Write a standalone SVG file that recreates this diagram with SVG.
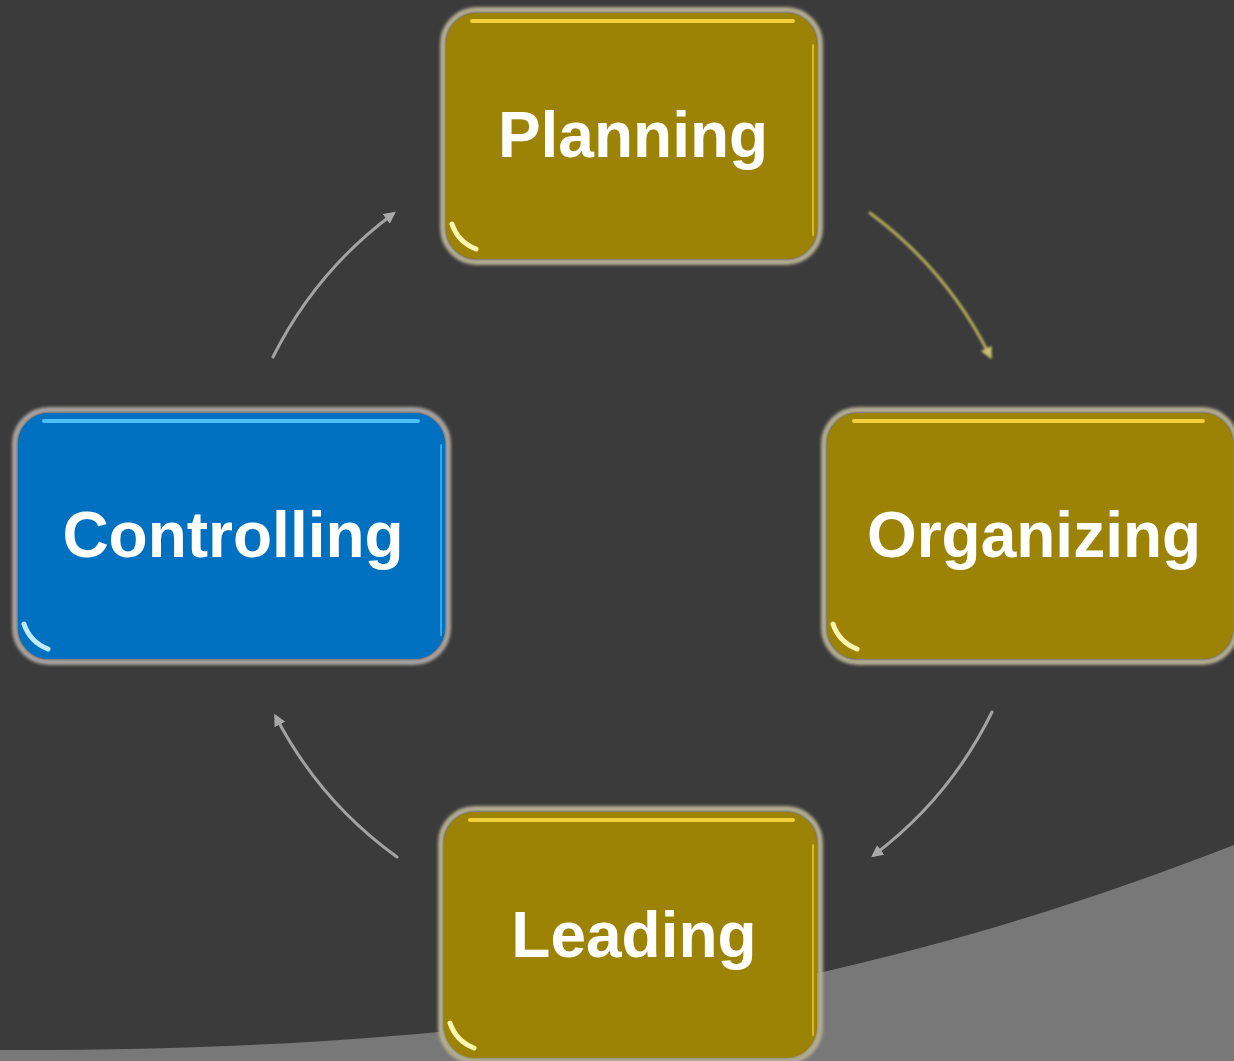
<svg xmlns="http://www.w3.org/2000/svg" width="1234" height="1061" viewBox="0 0 1234 1061">
  <defs>
    <style>
      .label { font-family: "Liberation Sans", Arial, sans-serif; font-weight: bold; font-size: 64px; fill: #ffffff; text-anchor: middle; }
      .rim { fill: none; stroke-width: 6; filter: url(#soft); }
      .gold .body { fill: #9c8306; }
      .gold .rim { stroke: #b3ad92; }
      .gold .shine { stroke: #efd03c; }
      .blue .body { fill: #0070c0; }
      .blue .rim { stroke: #a7a3a0; }
      .blue .shine { stroke: #4cc0f6; }
      .shine { fill: none; stroke-width: 4; stroke-linecap: round; }
      .edge { stroke-width: 2; opacity: 0.7; }
      .corner { fill: none; stroke: #fff6b0; stroke-width: 5; stroke-linecap: round; }
      .blue .corner { stroke: #bfeaff; }
      .link { fill: none; stroke-width: 3; stroke-linecap: round; }
    </style>
    <filter id="soft" x="-10%" y="-10%" width="120%" height="120%">
      <feGaussianBlur stdDeviation="1.6"/>
    </filter>
    <filter id="glow" x="-30%" y="-30%" width="160%" height="160%">
      <feGaussianBlur stdDeviation="0.9"/>
    </filter>
    <marker id="tip-gray" viewBox="0 0 10 10" refX="7" refY="5" markerWidth="4" markerHeight="4" orient="auto">
      <path d="M0,0 L10,5 L0,10 z" fill="#a8a8a8"/>
    </marker>
    <marker id="tip-gold" viewBox="0 0 10 10" refX="7" refY="5" markerWidth="4" markerHeight="4" orient="auto">
      <path d="M0,0 L10,5 L0,10 z" fill="#c8c070"/>
    </marker>
  </defs>

  <!-- backdrop -->
  <rect width="1234" height="1061" fill="#3b3b3b"/>
  <path d="M0,1050 C550,1052 900,975 1234,845 L1234,1061 L0,1061 Z" fill="#787878"/>

  <!-- connectors: arcs of one circle around the diagram centre -->
  <g id="connectors">
    <path class="link" d="M870,213 A400,400 0 0 1 990,356" stroke="#b5ac5c" marker-end="url(#tip-gold)" filter="url(#glow)"/>
    <path class="link" d="M992,712 A400,400 0 0 1 874,855" stroke="#a3a3a3" marker-end="url(#tip-gray)"/>
    <path class="link" d="M397,857 A400,400 0 0 1 276,717" stroke="#a3a3a3" marker-end="url(#tip-gray)"/>
    <path class="link" d="M273,357 A400,400 0 0 1 393,214" stroke="#a3a3a3" marker-end="url(#tip-gray)"/>
  </g>

  <!-- Planning -->
  <g id="planning" class="gold">
    <rect class="rim" x="443" y="10" width="377" height="252" rx="34"/>
    <rect class="body" x="446" y="13" width="371" height="246" rx="31"/>
    <path class="shine" d="M472,21 L793,21"/>
    <path class="shine edge" d="M813,45 L813,235"/>
    <path class="corner" d="M452,224 Q458,242 476,249"/>
    <text class="label" x="633" y="157">Planning</text>
  </g>

  <!-- Organizing -->
  <g id="organizing" class="gold">
    <rect class="rim" x="824" y="410" width="412" height="252" rx="34"/>
    <rect class="body" x="827" y="413" width="406" height="246" rx="31"/>
    <path class="shine" d="M854,421 L1203,421"/>
    <path class="corner" d="M833,624 Q839,642 857,649"/>
    <text class="label" x="1034" y="557">Organizing</text>
  </g>

  <!-- Controlling -->
  <g id="controlling" class="blue">
    <rect class="rim" x="15" y="410" width="433" height="252" rx="34"/>
    <rect class="body" x="18" y="413" width="427" height="246" rx="31"/>
    <path class="shine" d="M44,421 L418,421"/>
    <path class="shine edge" d="M441,445 L441,635"/>
    <path class="corner" d="M24,624 Q30,642 48,649"/>
    <text class="label" x="233" y="557">Controlling</text>
  </g>

  <!-- Leading -->
  <g id="leading" class="gold">
    <rect class="rim" x="441" y="809" width="379" height="252" rx="34"/>
    <rect class="body" x="444" y="812" width="373" height="246" rx="31"/>
    <path class="shine" d="M470,820 L793,820"/>
    <path class="shine edge" d="M813,845 L813,1035"/>
    <path class="corner" d="M450,1023 Q456,1041 474,1048"/>
    <text class="label" x="634" y="957">Leading</text>
  </g>
</svg>
